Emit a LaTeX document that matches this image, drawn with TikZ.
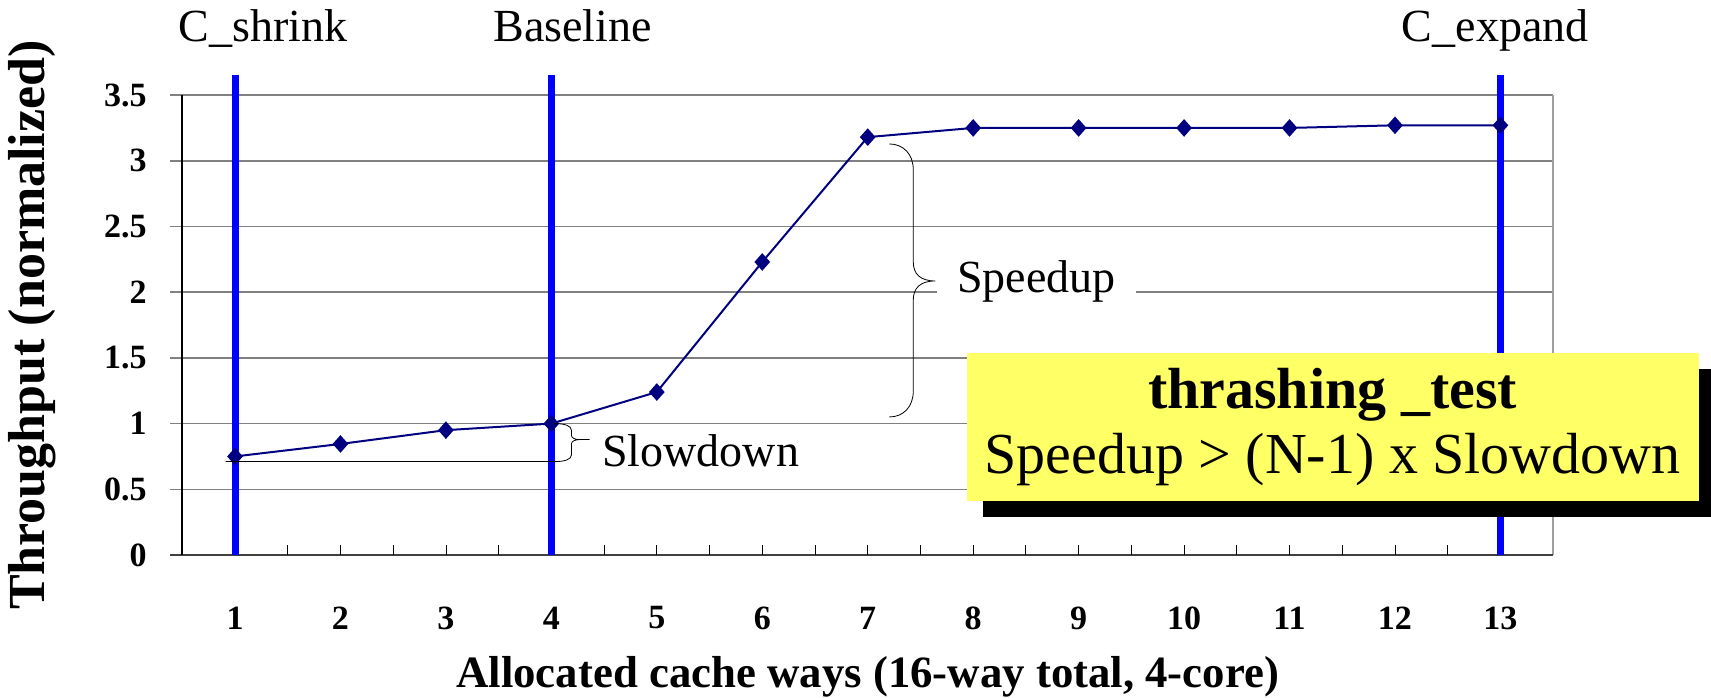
\documentclass[tikz,border=0pt]{standalone}
\usepackage{fontspec}
\setmainfont{Liberation Serif}
\usetikzlibrary{shapes.geometric,shadows}
\definecolor{navyline}{RGB}{0,0,128}
\definecolor{notebox}{RGB}{255,255,102}
\definecolor{axisgray}{RGB}{64,64,64}

\begin{document}
\begin{tikzpicture}[x=52.725pt, y=65.7pt]
      \tikzset{dot/.style={diamond, fill=navyline, inner sep=0pt, minimum width=8pt, minimum height=9pt},
               cutline/.style={draw=blue, line width=3.5pt},
               gridline/.style={draw=gray, line width=0.75pt},
               ticklab/.style={font=\bfseries\fontsize{17}{20}\selectfont, inner sep=0pt},
               axlab/.style={font=\bfseries\fontsize{22.4}{26}\selectfont, inner sep=0pt},
               tag/.style={font=\fontsize{23}{27}\selectfont, inner sep=0pt}}
      \useasboundingbox (-1.2285,-1.0883) rectangle (14.997,4.2237);
%% Grid and axes
      \foreach \y in {0.5,1,...,3.5}
          \draw[gridline] ([xshift=-6pt]0.5,\y) -- (13.5,\y);
      \draw[draw=gray!75, line width=1pt] (13.5,0) -- (13.5,3.5);
      \draw[draw=axisgray, line width=1pt] ([xshift=-6pt]0.5,0) -- (13.5,0);
      \draw[line width=1pt] (0.5,0) -- (0.5,3.5);
      \foreach \t in {1,1.5,...,13}
          \draw[thin] (\t,0) -- ++(0,5pt);
      \foreach \y [count=\k] in {0,0.5,1,1.5,2,2.5,3,3.5}
          \node[ticklab, anchor=east] (ylab\k) at (0.1655,\y) {\y};
      \foreach \x in {1,...,13}
          \node[ticklab] (xlab\x) at (\x,-0.479) {\x};
      \node[axlab, anchor=base] (xtitle) at (7,-1.012) {Allocated cache ways (16-way total, 4-core)};
      \node[axlab, anchor=base, rotate=90, font=\bfseries\fontsize{26}{30}\selectfont] (ytitle) at (-0.811,1.75) {Throughput (normalized)};
%% Cut lines
      \foreach \x in {1,4,13}
          \draw[cutline] (\x,0) -- (\x,3.653);
      \node[tag, anchor=base west] (shrink) at (0.465,3.904) {C\_shrink};
      \node[tag, anchor=base west] (base) at (3.448,3.904) {Baseline};
      \node[tag, anchor=base west] (expand) at (12.062,3.904) {C\_expand};
%% Throughput curve
      \foreach \x/\v in {1/0.75,2/0.845,3/0.95,4/1.0,5/1.24,6/2.23,7/3.18,8/3.25,9/3.25,10/3.25,11/3.25,12/3.27,13/3.27}
          \coordinate (p\x) at (\x,\v);
      \draw[navyline, line width=1pt] (p1) \foreach \x in {2,...,13} { -- (p\x) };
      \foreach \x in {1,...,13}
          \node[dot] (d\x) at (p\x) {};
%Braces
      \node[tag, anchor=base west, fill=white, inner xsep=10pt, inner ysep=2pt] (speed) at (7.657,1.994) {Speedup};
      \node[tag, anchor=base west] (slow) at (4.48,0.67) {Slowdown};
      \coordinate (stop) at (7.2045,3.128);
      \coordinate (shi) at (4.03,1.0);
      \coordinate (slo) at (0.91,0.711);
      \draw (stop) .. controls +(7pt,0) and +(0,8pt) .. ++(12pt,-13pt) -- ++(0,-46pt)
            .. controls +(0,-6pt) and +(-7.5pt,0) .. ++(11pt,-9.5pt)
            .. controls +(-7.5pt,0) and +(0,6pt) .. ++(-11pt,-9.5pt) -- ++(0,-45.5pt)
            .. controls +(0,-8pt) and +(7pt,0) .. ++(-12pt,-13pt);
      \draw (shi) .. controls +(5pt,0) and +(0,2.5pt) .. ++(8.5pt,-3.5pt) -- ++(0,-2.5pt)
            .. controls +(0,-1pt) and +(-2.5pt,0) .. ++(4pt,-2pt) -- ++(5pt,0) ++(-5pt,0)
            .. controls +(-2.5pt,0) and +(0,1pt) .. ++(-4pt,-2pt) -- ++(0,-5.5pt)
            .. controls +(0,-2.5pt) and +(5pt,0) .. ++(-8.5pt,-3.5pt) -- (slo);
%% Test box
      \node[fill=notebox, minimum width=366pt, minimum height=74pt, align=center,
            font=\fontsize{29}{32.5}\selectfont,
            drop shadow={shadow xshift=8pt, shadow yshift=-8pt, fill=black, opacity=1}]
            (test) at (11.408,0.974) {\textbf{thrashing \_test}\\Speedup > (N-1) x Slowdown};
\end{tikzpicture}
\end{document}
